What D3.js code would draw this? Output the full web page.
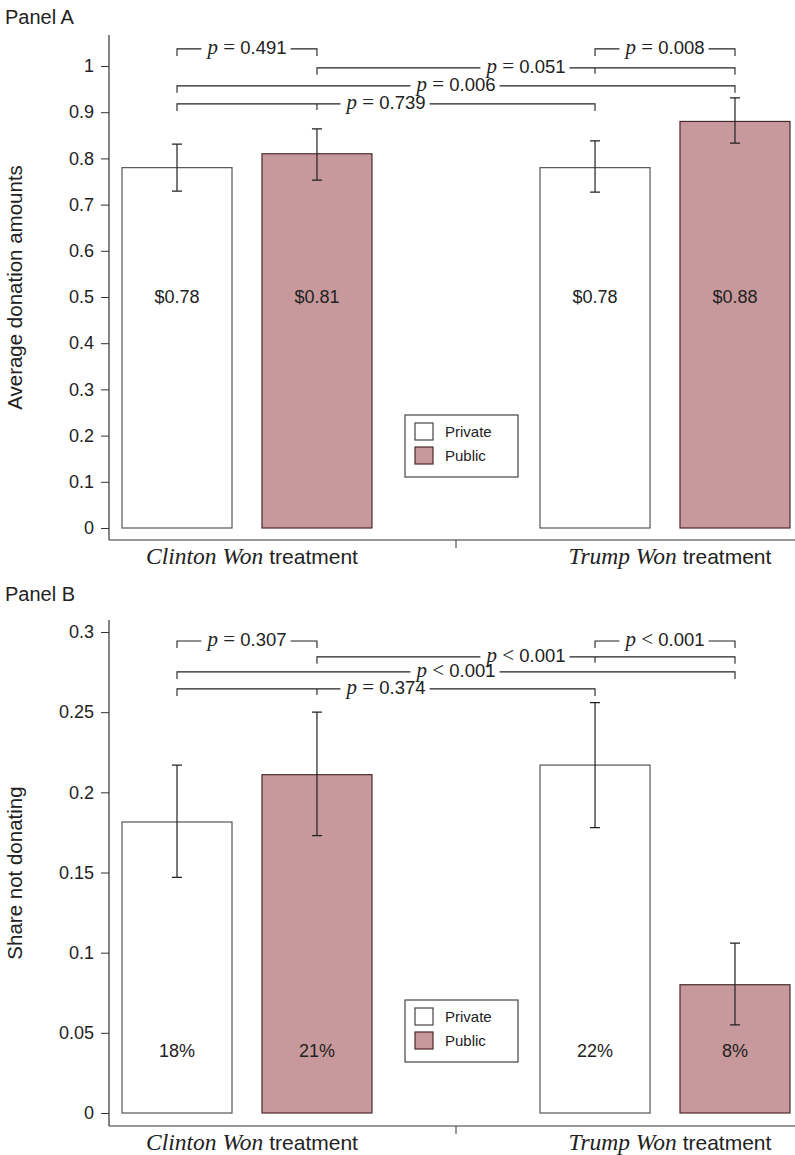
<!DOCTYPE html>
<html><head><meta charset="utf-8">
<script src="https://cdn.jsdelivr.net/npm/d3@7"></script>
<style>body{margin:0;background:#fff} svg{display:block}</style>
</head><body><svg id="chart" width="795" height="1155"></svg>
<script>
// ---------- data ----------
const groups = ["Clinton Won", "Trump Won"];
const conditions = ["Private", "Public"];

const donationMean = [0.78, 0.81, 0.78, 0.88];
const donationLow  = [0.729, 0.753, 0.727, 0.833];
const donationHigh = [0.831, 0.864, 0.838, 0.931];
const donationLabels = ["$0.78", "$0.81", "$0.78", "$0.88"];

const shareMean = [0.1815, 0.211, 0.217, 0.08];
const shareLow  = [0.147, 0.173, 0.178, 0.055];
const shareHigh = [0.217, 0.250, 0.256, 0.106];
const shareLabels = ["18%", "21%", "22%", "8%"];

const donationTicks = [0, 0.1, 0.2, 0.3, 0.4, 0.5, 0.6, 0.7, 0.8, 0.9, 1];
const donationTickLabels = ["0", "0.1", "0.2", "0.3", "0.4", "0.5", "0.6", "0.7", "0.8", "0.9", "1"];
const shareTicks = [0, 0.05, 0.1, 0.15, 0.2, 0.25, 0.3];
const shareTickLabels = ["0", "0.05", "0.1", "0.15", "0.2", "0.25", "0.3"];

// pairwise tests: bar indices, operator, p-value
const donationTests = [
  {from: 0, to: 1, op: "=", p: "0.491"},
  {from: 2, to: 3, op: "=", p: "0.008"},
  {from: 1, to: 3, op: "=", p: "0.051"},
  {from: 0, to: 3, op: "=", p: "0.006"},
  {from: 0, to: 2, op: "=", p: "0.739"}
];
const shareTests = [
  {from: 0, to: 1, op: "=", p: "0.307"},
  {from: 2, to: 3, op: "<", p: "0.001"},
  {from: 1, to: 3, op: "<", p: "0.001"},
  {from: 0, to: 3, op: "<", p: "0.001"},
  {from: 0, to: 2, op: "=", p: "0.374"}
];

// ---------- drawing ----------
const svg = d3.select("#chart");
const SANS = "'Liberation Sans', Arial, Helvetica, sans-serif";
const SERIF = "'Liberation Serif', 'Times New Roman', serif";
const AXIS_X = 109;
const INK = "#222";

function drawPanel(cfg) {
  const g = svg.append("g");
  const y = d3.scaleLinear().domain([0, cfg.yMax]).range([cfg.y0, cfg.yTop]);
  const xOuter = d3.scaleBand().domain(groups).range([122, 790]).paddingInner(0.402);
  const xInner = d3.scaleBand().domain(conditions).range([0, xOuter.bandwidth()]).paddingInner(0.214);

  const bars = cfg.mean.map((v, i) => ({
    group: groups[Math.floor(i / 2)], cond: conditions[i % 2],
    v, lo: cfg.low[i], hi: cfg.high[i], label: cfg.labels[i]
  }));
  const bx = d => xOuter(d.group) + xInner(d.cond);
  const cx = d => bx(d) + xInner.bandwidth() / 2;

  // panel title
  g.append("text").attr("x", 5).attr("y", cfg.titleY)
    .attr("font-family", SANS).attr("font-size", 20).attr("fill", INK).text(cfg.title);

  // y axis
  const axis = d3.axisLeft(y).tickValues(cfg.ticks)
    .tickFormat((d, i) => cfg.tickLabels[i]).tickSize(8).tickPadding(7);
  const ax = g.append("g").attr("transform", `translate(${AXIS_X},0)`).call(axis);
  ax.select(".domain").remove();
  ax.selectAll(".tick line").attr("stroke", "#333");
  ax.selectAll(".tick text").attr("font-family", SANS).attr("font-size", 18).attr("fill", INK);
  g.append("line").attr("x1", AXIS_X).attr("x2", AXIS_X)
    .attr("y1", cfg.axisTop).attr("y2", cfg.axisBottom).attr("stroke", "#333").attr("stroke-width", 1.2);

  // x axis
  g.append("line").attr("x1", AXIS_X).attr("x2", 795)
    .attr("y1", cfg.axisBottom).attr("y2", cfg.axisBottom).attr("stroke", "#333").attr("stroke-width", 1.2);
  const midX = (xOuter(groups[0]) + xOuter.bandwidth() + xOuter(groups[1])) / 2;
  g.append("line").attr("x1", midX).attr("x2", midX)
    .attr("y1", cfg.axisBottom).attr("y2", cfg.axisBottom + 8).attr("stroke", "#333");

  // category labels
  groups.forEach(gr => {
    const t = g.append("text").attr("x", xOuter(gr) + xOuter.bandwidth() / 2 + 5)
      .attr("y", cfg.axisBottom + 24).attr("text-anchor", "middle").attr("fill", INK);
    t.append("tspan").attr("font-family", SERIF).attr("font-style", "italic")
      .attr("font-size", 23.5).text(gr + " ");
    t.append("tspan").attr("font-family", SANS).attr("font-size", 21).text("treatment");
  });

  // y title
  g.append("text").attr("transform", `translate(22,${(cfg.axisTop + cfg.axisBottom) / 2}) rotate(-90)`)
    .attr("text-anchor", "middle").attr("font-family", SANS).attr("font-size", 20.5)
    .attr("fill", INK).text(cfg.yTitle);

  // bars
  g.selectAll("rect.bar").data(bars).join("rect").attr("class", "bar")
    .attr("x", bx).attr("width", xInner.bandwidth())
    .attr("y", d => y(d.v)).attr("height", d => y(0) - y(d.v))
    .attr("fill", d => d.cond === "Public" ? "#c8999c" : "#ffffff")
    .attr("stroke", d => d.cond === "Public" ? "#4a2a2c" : "#555")
    .attr("stroke-width", 1.2);

  // error bars
  const cap = 5;
  bars.forEach(d => {
    const x = cx(d);
    g.append("path")
      .attr("d", `M${x},${y(d.hi)}V${y(d.lo)}M${x - cap},${y(d.hi)}H${x + cap}M${x - cap},${y(d.lo)}H${x + cap}`)
      .attr("stroke", "#222").attr("stroke-width", 1.2).attr("fill", "none");
  });

  // bar value labels
  g.selectAll("text.val").data(bars).join("text").attr("class", "val")
    .attr("x", cx).attr("y", y(cfg.labelAt)).attr("dy", "0.35em")
    .attr("text-anchor", "middle").attr("font-family", SANS).attr("font-size", 18)
    .attr("fill", INK).text(d => d.label);

  // significance brackets
  cfg.tests.forEach((tst, k) => {
    const yy = y(cfg.bracketLevels[k]);
    const x1 = cx(bars[tst.from]), x2 = cx(bars[tst.to]);
    let d = `M${x1},${yy + 7}V${yy}H${x2}V${yy + 7}`;
    if (tst.to - tst.from === 2) {
      const xm = cx(bars[tst.from + 1]);
      d += `M${xm},${yy}V${yy + 6}`;
    }
    g.append("path").attr("d", d).attr("stroke", "#222").attr("stroke-width", 1.1).attr("fill", "none");
    const bg = g.append("rect").attr("fill", "#fff");
    const t = g.append("text").attr("x", (x1 + x2) / 2).attr("y", yy).attr("dy", "0.3em")
      .attr("text-anchor", "middle").attr("fill", INK);
    t.append("tspan").attr("font-family", SERIF).attr("font-style", "italic").attr("font-size", 21).text("p");
    t.append("tspan").attr("font-family", SERIF).attr("font-size", 21).text(" " + tst.op + " ");
    t.append("tspan").attr("font-family", SANS).attr("font-size", 18.5).text(tst.p);
    const bb = t.node().getBBox();
    bg.attr("x", bb.x - 4).attr("width", bb.width + 8).attr("y", yy - 3).attr("height", 6);
  });

  // legend
  const lg = g.append("g").attr("transform", `translate(405,${cfg.legendY})`);
  lg.append("rect").attr("width", 113).attr("height", 62).attr("fill", "#fff")
    .attr("stroke", "#444").attr("stroke-width", 1.2);
  conditions.forEach((c, i) => {
    lg.append("rect").attr("x", 10).attr("y", 8 + i * 24).attr("width", 18).attr("height", 17)
      .attr("fill", c === "Public" ? "#c8999c" : "#fff")
      .attr("stroke", c === "Public" ? "#4a2a2c" : "#444").attr("stroke-width", 1.2);
    lg.append("text").attr("x", 40).attr("y", 16.5 + i * 24).attr("dy", "0.35em")
      .attr("font-family", SANS).attr("font-size", 15).attr("fill", INK).text(c);
  });
}

drawPanel({
  title: "Panel A", titleY: 24,
  yMax: 1, y0: 528, yTop: 66, axisTop: 35, axisBottom: 540,
  ticks: donationTicks, tickLabels: donationTickLabels,
  mean: donationMean, low: donationLow, high: donationHigh, labels: donationLabels,
  labelAt: 0.5, yTitle: "Average donation amounts",
  tests: donationTests, bracketLevels: [1.037, 1.037, 0.996, 0.957, 0.918],
  legendY: 415
});

drawPanel({
  title: "Panel B", titleY: 601,
  yMax: 0.3, y0: 1113, yTop: 632, axisTop: 620, axisBottom: 1126,
  ticks: shareTicks, tickLabels: shareTickLabels,
  mean: shareMean, low: shareLow, high: shareHigh, labels: shareLabels,
  labelAt: 0.0387, yTitle: "Share not donating",
  tests: shareTests, bracketLevels: [0.2944, 0.2944, 0.2845, 0.2751, 0.2645],
  legendY: 1000
});
</script>
</body></html>
